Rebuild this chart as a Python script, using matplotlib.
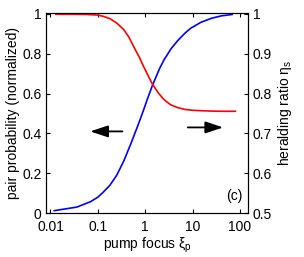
import matplotlib
matplotlib.use("Agg")
import matplotlib.pyplot as plt
import numpy as np

plt.rcParams['font.family'] = ['Liberation Sans', 'DejaVu Sans']
plt.rcParams['mathtext.fontset'] = 'custom'
plt.rcParams['mathtext.rm'] = 'Liberation Sans'
plt.rcParams['mathtext.it'] = 'Liberation Sans'
plt.rcParams['font.size'] = 10

# pair probability (left axis), blue
xi_blue = [0.012, 0.036, 0.07, 0.1, 0.13, 0.18, 0.25, 0.35, 0.5, 0.7, 0.93,
           1.1, 1.41, 2.0, 2.5, 3.5, 4.8, 7, 9.1, 15, 25, 40, 68]
pair_prob = [0.012, 0.03, 0.057, 0.08, 0.105, 0.14, 0.19, 0.26, 0.35, 0.44, 0.52,
             0.57, 0.64, 0.725, 0.77, 0.825, 0.865, 0.905, 0.928, 0.958, 0.978, 0.99, 0.997]

# heralding ratio (right axis), red
xi_red = [0.013, 0.03, 0.06, 0.1, 0.13, 0.18, 0.25, 0.35, 0.45, 0.575, 0.75, 0.93, 1.15,
          1.41, 1.9, 2.48, 3.4, 4.76, 7, 10, 14.8, 25, 45, 80]
herald = [0.999, 0.999, 0.9985, 0.997, 0.994, 0.988, 0.977, 0.961, 0.942, 0.917, 0.891, 0.867,
          0.845, 0.824, 0.801, 0.785, 0.772, 0.765, 0.760, 0.758, 0.757, 0.756, 0.7555, 0.7555]

xticks = [0.01, 0.1, 1, 10, 100]
xticklabels = ["0.01", "0.1", "1", "10", "100"]
lticks = [0, 0.2, 0.4, 0.6, 0.8, 1]
lticklabels = ["0", "0.2", "0.4", "0.6", "0.8", "1"]
rticks = [0.5, 0.6, 0.7, 0.8, 0.9, 1]
rticklabels = ["0.5", "0.6", "0.7", "0.8", "0.9", "1"]

fig = plt.figure(figsize=(3.04, 2.57), dpi=100)
ax = fig.add_axes([0.151, 0.171, 0.666, 0.778])
ax2 = ax.twinx()

ax.plot(xi_blue, pair_prob, color='#0000ff', linewidth=1.2)
ax2.plot(xi_red, herald, color='#ff0000', linewidth=1.2)

ax.set_xscale('log')
ax.set_xlim(0.008, 150)
ax.set_ylim(0, 1.004)
ax2.set_ylim(0.5, 1.002)

ax.set_xticks(xticks)
ax.set_xticklabels(xticklabels)
ax.minorticks_off()
ax.set_yticks(lticks)
ax.set_yticklabels(lticklabels)
ax2.set_yticks(rticks)
ax2.set_yticklabels(rticklabels)

ax.tick_params(axis='x', direction='in', length=3, top=True, pad=5)
ax.tick_params(axis='y', direction='in', length=3, pad=3)
ax2.tick_params(axis='y', direction='in', length=3, pad=3)

ax.set_xlabel(r"pump focus $\mathregular{\xi_p}$", labelpad=1)
ax.set_ylabel("pair probability (normalized)", labelpad=2)
ax2.set_ylabel(r"heralding ratio $\mathregular{\eta_s}$", labelpad=3)

# arrows pointing to the axes
arrow_style = '-|>,head_length=0.6,head_width=0.2'
ax.annotate("", xy=(0.069, 0.41), xytext=(0.33, 0.41),
            arrowprops=dict(arrowstyle=arrow_style, color='black', lw=1.3,
                            mutation_scale=18, shrinkA=0, shrinkB=0))
ax.annotate("", xy=(44, 0.43), xytext=(7.9, 0.43),
            arrowprops=dict(arrowstyle=arrow_style, color='black', lw=1.3,
                            mutation_scale=18, shrinkA=0, shrinkB=0))

ax.text(77, 0.085, "(c)", ha='center', va='center', fontsize=10)

fig.savefig("out.png", dpi=100)
